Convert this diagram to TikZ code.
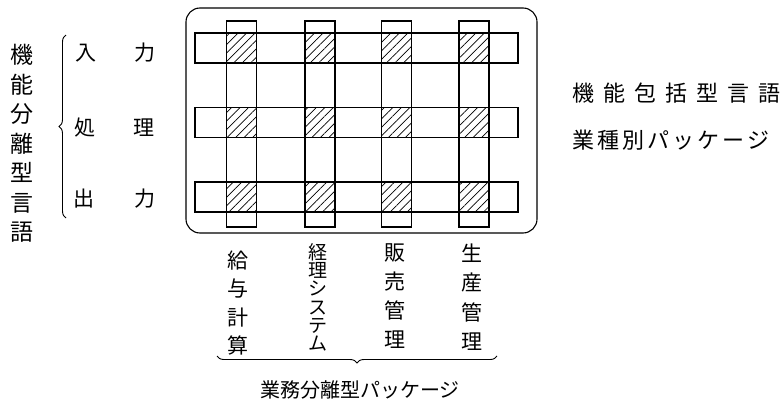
\documentclass[tikz,border=0pt]{standalone}
\usepackage{fontspec}
\newfontfamily\jp{Noto Sans CJK JP}
\usetikzlibrary{patterns.meta,decorations.pathreplacing,calc}
\newcommand\gapr[1]{\hspace{#1pt}}
\begin{document}
\begin{tikzpicture}[x=1pt,y=-1pt,line width=1.1pt,
  hbar/.style={draw,minimum width=323pt,minimum height=30pt,inner sep=0pt,outer sep=0pt},
  vbar/.style={draw,minimum width=30pt,minimum height=206pt,inner sep=0pt,outer sep=0pt},
  hatch/.style={draw,pattern={Lines[angle=45,distance=6pt,line width=0.7pt]}},
  frame/.style={draw,rounded corners=14pt,minimum width=351pt,minimum height=225pt,inner sep=0pt,outer sep=0pt},
  lbl/.style={font=\jp\fontsize{21}{21}\selectfont,inner sep=0pt},
  vtext/.style={font=\jp\fontsize{21}{#1}\selectfont,align=center,inner sep=0pt,anchor=north},
  bracestyle/.style={decorate,decoration={brace,amplitude=7pt},line width=0.9pt}]
\useasboundingbox (0,0) rectangle (782,407);
% frame
\node[frame] (frame) at (361.5,120.5) {};
% rows
\node[hbar] (r1) at (356.5,48) {};
\node[hbar] (r2) at (356.5,122.5) {};
\node[hbar] (r3) at (356.5,197) {};
% columns
\node[vbar] (c1) at (241.5,124) {};
\node[vbar] (c2) at (320,124) {};
\node[vbar] (c3) at (396.5,124) {};
\node[vbar] (c4) at (474,124) {};
% hatched cells
\foreach \r in {r1,r2,r3}{
  \foreach \c in {c1,c2,c3,c4}{
    \path[hatch] (\r.north -| \c.west) rectangle (\r.south -| \c.east);
  }
}
% left labels
\node[vtext=29.5,font=\jp\fontsize{23}{29.5}\selectfont] (lv) at (22,44) {機\\能\\分\\離\\型\\言\\語};
\coordinate (lbtop) at (66,35);
\coordinate (lbbot) at (66,218);
\draw[bracestyle] (lbbot) -- (lbtop);
\node[lbl] (in1) at (86,53) {入};
\node[lbl] (in2) at (145,53) {力};
\node[lbl] (pr1) at (85,128) {処};
\node[lbl] (pr2) at (144,128) {理};
\node[lbl] (ou1) at (84,199) {出};
\node[lbl] (ou2) at (145,199) {力};
% bottom labels
\node[vtext=28.5] (b1) at (238,250) {給\\与\\計\\算};
\node[vtext=18.2,font=\jp\fontsize{19}{18.2}\selectfont] (b2) at (318,243) {経\\理\\シ\\ス\\テ\\ム};
\node[vtext=29] (b3) at (395,243) {販\\売\\管\\理};
\node[vtext=29.5] (b4) at (472,243) {生\\産\\管\\理};
\coordinate (bbl) at (217,356);
\coordinate (bbr) at (497,356);
\draw[bracestyle] (bbr) -- (bbl);
\node[lbl,font=\jp\fontsize{20}{20}\selectfont] (bl) at (360,390) {業務分離型パッケージ};
% right labels
\node[lbl,anchor=west,font=\jp\fontsize{22}{22}\selectfont] (rt1) at (572,93) {機\gapr{9}能\gapr{9}包\gapr{9}括\gapr{9}型\gapr{9}言\gapr{9}語};
\node[lbl,anchor=west,font=\jp\fontsize{22}{22}\selectfont] (rt2) at (572,140) {業\gapr{3}種\gapr{3}別\gapr{3}パ\gapr{3}ッ\gapr{3}ケ\gapr{3}ー\gapr{3}ジ};
\end{tikzpicture}
\end{document}
